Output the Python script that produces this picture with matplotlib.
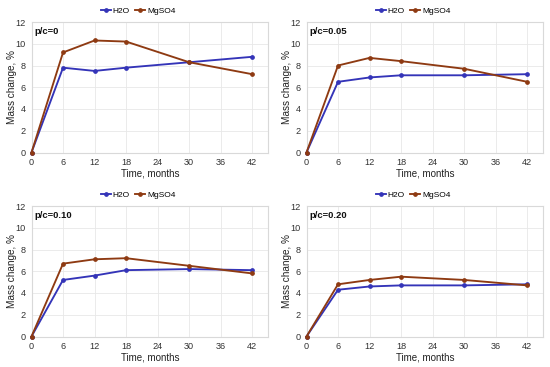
import matplotlib
matplotlib.use("Agg")
import matplotlib.pyplot as plt

plt.rcParams['font.family'] = ['Liberation Sans', 'DejaVu Sans']

months = [0, 6, 12, 18, 30, 42]
panel_titles = ["p/c=0", "p/c=0.05", "p/c=0.10", "p/c=0.20"]
h2o_0 = [0, 7.8, 7.5, 7.8, 8.3, 8.8]
mgso4_0 = [0, 9.2, 10.3, 10.2, 8.3, 7.2]
h2o_05 = [0, 6.5, 6.9, 7.1, 7.1, 7.2]
mgso4_05 = [0, 8.0, 8.7, 8.4, 7.7, 6.5]
h2o_10 = [0, 5.2, 5.6, 6.1, 6.2, 6.1]
mgso4_10 = [0, 6.7, 7.1, 7.2, 6.5, 5.8]
h2o_20 = [0, 4.3, 4.6, 4.7, 4.7, 4.8]
mgso4_20 = [0, 4.8, 5.2, 5.5, 5.2, 4.7]
x_ticks = [0, 6, 12, 18, 24, 30, 36, 42]
y_ticks = [0, 2, 4, 6, 8, 10, 12]

h2o_all = [h2o_0, h2o_05, h2o_10, h2o_20]
mg_all = [mgso4_0, mgso4_05, mgso4_10, mgso4_20]

W, H = 550, 367
fig = plt.figure(figsize=(W / 100, H / 100), dpi=100)

blue = '#3434b8'
brown = '#8e3a12'
grid_c = '#e8e8e8'

offsets = [(0, 0), (275, 0), (0, 184), (275, 184)]
for i, (ox, oy) in enumerate(offsets):
    left, right, top, bottom = 31.5 + ox, 268 + ox, 22 + oy, 152.5 + oy
    aw, ah = right - left, bottom - top
    ax = fig.add_axes([left / W, 1 - bottom / H, aw / W, ah / H])
    l1, = ax.plot(months, h2o_all[i], color=blue, lw=1.35, marker='o', ms=2.4, label='H2O',
                  clip_on=False, zorder=3)
    l2, = ax.plot(months, mg_all[i], color=brown, lw=1.35, marker='o', ms=2.4, label='MgSO4',
                  clip_on=False, zorder=3)
    ax.set_xlim(0, 45)
    ax.set_ylim(0, 12)
    ax.set_xticks(x_ticks)
    ax.set_yticks(y_ticks)
    ax.tick_params(axis='y', labelsize=6.6, length=0, pad=4, colors='#333333')
    ax.tick_params(axis='x', labelsize=6.6, length=0, pad=4.0, colors='#333333')
    ax.grid(True, color=grid_c, lw=0.6)
    ax.set_axisbelow(True)
    for s in ax.spines.values():
        s.set_color('#d9d9d9')
        s.set_linewidth(0.8)
    ax.set_xlabel('Time, months', fontsize=7.0, color='#222222')
    ax.xaxis.set_label_coords((150 + ox - left) / aw, (bottom - (168.5 + oy)) / ah)
    ax.set_ylabel('Mass change, %', fontsize=7.2, color='#222222')
    ax.yaxis.set_label_coords((17 + ox - left) / aw, 0.5)
    ax.text((34.5 + ox - left) / aw, 1 - (26.5 - 22) / ah, panel_titles[i],
            transform=ax.transAxes, fontsize=6.8,
            fontweight='bold', va='top', ha='left', color='#111111')
    fig.legend(handles=[l1, l2], loc='center', ncol=2,
               bbox_to_anchor=((138 + ox) / W, 1 - (11 + oy) / H),
               fontsize=6.0, frameon=False, handlelength=1.2, handletextpad=0.2,
               columnspacing=0.7, borderpad=0)

fig.savefig('out.png', dpi=100, facecolor='white')
